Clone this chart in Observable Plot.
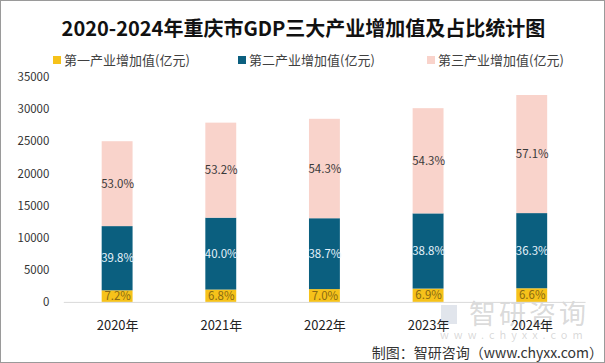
<!DOCTYPE html>
<html>
<head>
<meta charset="utf-8">
<script src="https://cdn.jsdelivr.net/npm/d3@7"></script>
<script src="https://cdn.jsdelivr.net/npm/@observablehq/plot@0.6"></script>
<style>
  html, body { margin: 0; padding: 0; background: #fff; }
  #frame { position: relative; width: 605px; height: 363px; box-sizing: border-box; border: 1px solid #9a9a9a; overflow: hidden; font-family: "Noto Sans CJK SC", "Noto Sans", sans-serif; }
  #title { position: absolute; left: 0; top: 12px; width: 605px; text-align: center; font-size: 20px; font-weight: bold; color: #111; line-height: 30px; }
  .leg { position: absolute; top: 50px; font-size: 13px; color: #404040; line-height: 18px; white-space: nowrap; }
  .sw { display: inline-block; width: 8px; height: 8px; margin-right: 3px; vertical-align: 1px; }
  #chart { position: absolute; left: 0; top: 65px; }
  #wm { position: absolute; left: 468px; top: 297px; font-size: 27px; color: rgba(160,160,160,0.4); letter-spacing: 3px; line-height: 30px; white-space: nowrap; }
  #wm2 { position: absolute; left: 439px; top: 327px; font-size: 11px; color: rgba(160,160,160,0.4); letter-spacing: 5px; line-height: 13px; white-space: nowrap; }
  #logo { position: absolute; left: 440px; top: 304px; width: 16px; height: 19px; background: rgba(170,180,200,0.35); }
  #caption { position: absolute; right: 1px; top: 341px; font-size: 14px; color: #333; line-height: 20px; white-space: nowrap; }
</style>
</head>
<body>
<div id="frame">
  <div id="title">2020-2024年重庆市GDP三大产业增加值及占比统计图</div>
  <div id="legend"></div>
  <div id="logo"></div>
  <div id="wm">智研咨询</div>
  <div id="wm2">www.chyxx.com</div>
  <div id="chart"></div>
  <div id="caption">制图：智研咨询（www.chyxx.com）</div>
</div>
<script>
const years = ["2020年", "2021年", "2022年", "2023年", "2024年"];
const seriesNames = ["第一产业增加值(亿元)", "第二产业增加值(亿元)", "第三产业增加值(亿元)"];
const primary = [1803, 1922, 1994, 2075, 2126];
const secondary = [9992, 11185, 11026, 11699, 11693];
const tertiary = [13207, 14787, 15470, 16372, 18375];
const primaryPct = ["7.2%", "6.8%", "7.0%", "6.9%", "6.6%"];
const secondaryPct = ["39.8%", "40.0%", "38.7%", "38.8%", "36.3%"];
const tertiaryPct = ["53.0%", "53.2%", "54.3%", "54.3%", "57.1%"];
const yTicks = [0, 5000, 10000, 15000, 20000, 25000, 30000, 35000];
const colors = ["#F6C21A", "#0B5F7F", "#F9D3CB"];
const labelColors = ["#8a6a12", "#e6f2fb", "#3a3a3a"];

const values = [primary, secondary, tertiary];
const pcts = [primaryPct, secondaryPct, tertiaryPct];
const rows = [];
years.forEach((yr, i) => {
  seriesNames.forEach((s, k) => {
    rows.push({year: yr, series: s, value: values[k][i], pct: pcts[k][i], lc: labelColors[k]});
  });
});

// legend
const legendX = [52, 237, 426];
const legend = document.getElementById("legend");
seriesNames.forEach((s, k) => {
  const d = document.createElement("div");
  d.className = "leg";
  d.style.left = legendX[k] + "px";
  d.innerHTML = `<span class="sw" style="background:${colors[k]}"></span>${s}`;
  legend.appendChild(d);
});

const plot = Plot.plot({
  width: 605,
  height: 275,
  marginLeft: 63,
  marginRight: 18.5,
  marginTop: 11,
  marginBottom: 38.3,
  style: {background: "transparent", fontFamily: "'Noto Sans CJK SC', sans-serif"},
  x: {domain: years, paddingInner: 0.7, paddingOuter: 0.35, label: null},
  y: {domain: [0, 35000], label: null},
  color: {domain: seriesNames, range: colors},
  marks: [
    Plot.axisY({ticks: yTicks, tickSize: 0, tickPadding: 15, tickFormat: d => String(d), fontSize: 11.5, color: "#333", label: null}),
    Plot.axisX({tickSize: 0, tickPadding: 18, fontSize: 13, color: "#222", label: null}),
    Plot.barY(rows, {x: "year", y: "value", fill: "series"}),
    Plot.ruleY([0], {stroke: "#d9d9d9", strokeWidth: 1}),
    Plot.text(rows, Plot.stackY({x: "year", y: "value", z: "series", text: "pct", fill: "lc", fontSize: 11.5})),
  ]
});
document.getElementById("chart").appendChild(plot);
</script>
</body>
</html>
